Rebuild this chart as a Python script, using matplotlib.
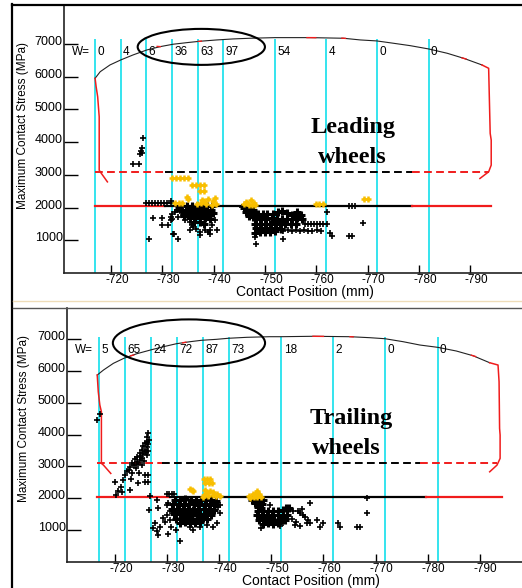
import numpy as np
import matplotlib
matplotlib.use("Agg")
import matplotlib.pyplot as plt
from matplotlib.patches import Ellipse
from matplotlib.lines import Line2D
from matplotlib.transforms import ScaledTranslation

plt.rcParams['font.family'] = ['Liberation Sans', 'DejaVu Sans']
plt.rcParams['axes.unicode_minus'] = False

CYAN = '#34E4EE'
RED = '#F01C1C'
GOLD = '#F8BE00'

# --- shared data ---
cut_x = [-716.9, -721.9, -726.9, -731.9, -736.9, -741.9, -751.9, -761.9, -771.9, -781.9]
xticks = [-720, -730, -740, -750, -760, -770, -780, -790]
yticks = [1000, 2000, 3000, 4000, 5000, 6000, 7000]

# --- leading wheels (top) ---
top_w = ['0', '4', '6', '36', '63', '97', '54', '4', '0', '0']
top_profile = [(-716.9, 5950), (-717.9, 6152), (-719.8, 6358), (-721.9, 6511), (-724.3, 6664),
               (-727.0, 6817), (-729.6, 6918), (-732.1, 6991), (-734.8, 7040), (-737.4, 7083),
               (-740.6, 7122), (-743.8, 7153), (-747.1, 7174), (-752.0, 7193), (-758.8, 7193),
               (-765.3, 7174), (-768.6, 7122), (-771.8, 7092), (-775.0, 7022), (-778.3, 6948),
               (-781.9, 6847), (-785.5, 6716), (-788.7, 6563), (-792.3, 6358)]
top_left_side = [(-716.9, 5950), (-717.1, 5693), (-717.4, 5387), (-717.7, 4775), (-717.7, 3143),
                 (-717.9, 3092), (-719.3, 2785)]
top_right_side = [(-792.3, 6358), (-793.6, 6256), (-793.9, 4267), (-794.1, 4062), (-794.1, 3297),
                  (-793.6, 3092), (-791.9, 2889)]
top_red_bits = [[(-729.0, 6925), (-729.6, 6918)], [(-737.0, 7078), (-737.6, 7085)],
                [(-758.2, 7193), (-759.9, 7192)], [(-765.0, 7176), (-765.7, 7170)],
                [(-788.4, 6575), (-789.2, 6540)]]
top_dash_y = 3092
top_dash_x = [-716.9, -730.5, -778.7, -793.6]
top_solid_y = 2050
top_solid_x = [-716.9, -730.5, -778.7, -794.1]
top_cut_top = 7150

top_black = [(-726.3, 4114), (-726.1, 3808), (-725.8, 3735), (-726.0, 3673), (-725.7, 3633),
             (-724.2, 3318), (-725.5, 3318),
             (-726.8, 2140), (-727.4, 2145), (-728.0, 2150), (-728.6, 2145), (-729.2, 2150),
             (-729.8, 2140), (-730.4, 2150), (-731.0, 2145), (-731.6, 2200), (-731.7, 2140),
             (-728.2, 1696), (-730.0, 1696), (-729.9, 1460), (-731.2, 1460), (-727.4, 1031),
             (-733.1, 1031), (-732.3, 1206), (-731.7, 1714), (-731.7, 1613), (-732.5, 1867),
             (-733.5, 1898), (-733.1, 1714), (-734.1, 1766), (-734.4, 1613), (-735.4, 1561),
             (-735.7, 1460), (-736.0, 1408), (-735.4, 1307), (-736.6, 1359), (-737.4, 1154),
             (-737.4, 1255), (-738.3, 1307), (-739.2, 1206), (-739.2, 1307), (-740.3, 1613),
             (-740.6, 1307), (-739.6, 1460), (-731.8, 1818), (-732.8, 1919), (-731.8, 1665),
             (-732.1, 1206), (-739.0, 1260),
             (-757.8, 1490), (-758.4, 1495), (-759.0, 1485), (-759.6, 1490), (-760.2, 1495),
             (-760.8, 1485), (-761.4, 1490), (-762.0, 1490),
             (-753.6, 1290), (-754.4, 1300), (-755.2, 1280), (-756.0, 1310), (-756.8, 1290),
             (-757.6, 1300), (-758.4, 1280), (-759.2, 1290), (-760.2, 1300), (-761.0, 1290),
             (-748.1, 1085), (-748.3, 900), (-753.6, 1025), (-769.2, 1530), (-766.3, 1125),
             (-766.9, 1125), (-762.7, 1230), (-763.0, 1125), (-762.0, 1870),
             (-766.3, 2040), (-766.9, 2040), (-767.5, 2040), (-745.5, 2020)]
top_black_dense = [(-734.8, 2050), (-735.8, 2040), (-736.8, 2055), (-737.8, 2045), (-738.8, 2050),
                   (-739.7, 2040), (-734.6, 1930), (-735.6, 1950), (-736.6, 1920), (-737.6, 1960),
                   (-738.6, 1940), (-739.5, 1920), (-735.0, 1810), (-736.0, 1830), (-737.0, 1800),
                   (-738.0, 1820), (-739.0, 1790), (-739.8, 1830), (-735.4, 1690), (-736.4, 1700),
                   (-737.4, 1670), (-738.4, 1690), (-739.2, 1650), (-736.2, 1570), (-737.3, 1560),
                   (-738.1, 1510), (-733.2, 1980), (-733.8, 1880), (-734.2, 1740),
                   (-746.0, 1980), (-746.9, 1990), (-747.6, 1940), (-746.3, 1850), (-747.2, 1860),
                   (-748.0, 1800), (-746.8, 1730), (-747.6, 1700),
                   (-748.6, 1800), (-749.6, 1790), (-750.5, 1810), (-751.5, 1790), (-752.5, 1850),
                   (-753.3, 1900), (-754.3, 1820), (-755.3, 1780), (-756.3, 1850), (-757.0, 1760),
                   (-748.3, 1650), (-749.3, 1660), (-750.3, 1640), (-751.3, 1670), (-752.3, 1650),
                   (-753.3, 1660), (-754.3, 1640), (-755.3, 1650), (-756.3, 1670), (-757.2, 1640),
                   (-748.0, 1500), (-749.0, 1510), (-750.0, 1490), (-751.0, 1500), (-752.0, 1520),
                   (-753.0, 1490), (-754.0, 1500), (-755.0, 1510), (-756.0, 1490),
                   (-748.2, 1360), (-749.2, 1350), (-750.2, 1370), (-751.2, 1350), (-752.2, 1360),
                   (-753.2, 1340), (-748.0, 1220), (-749.0, 1240), (-750.0, 1250), (-751.0, 1260),
                   (-752.0, 1270)]
top_gold = [(-731.8, 2890), (-732.6, 2890), (-733.4, 2890), (-734.2, 2890), (-735.0, 2890),
            (-735.8, 2685), (-736.6, 2685), (-737.4, 2685), (-738.2, 2685),
            (-737.4, 2510), (-738.2, 2510), (-734.8, 2308), (-735.1, 2247),
            (-736.8, 2100), (-737.5, 2150), (-738.2, 2200), (-739.0, 2250), (-739.8, 2200),
            (-740.4, 2120), (-738.6, 2100), (-739.6, 2080), (-737.8, 2230), (-740.2, 2280),
            (-732.5, 2124), (-733.2, 2124), (-733.8, 2124),
            (-746.0, 2100), (-746.6, 2150), (-747.2, 2230), (-747.8, 2150), (-748.1, 2080),
            (-746.8, 2080), (-747.5, 2090), (-746.3, 2180),
            (-759.9, 2103), (-760.6, 2103), (-761.4, 2103), (-769.3, 2247), (-770.1, 2247)]

# --- trailing wheels (bottom) ---
bot_w = ['5', '65', '24', '72', '87', '73', '18', '2', '0', '0']
bot_profile = [(-716.6, 5869), (-717.8, 6026), (-719.7, 6236), (-721.7, 6393), (-724.2, 6538),
               (-726.8, 6654), (-729.3, 6758), (-731.8, 6852), (-734.4, 6915), (-736.6, 6959),
               (-739.5, 6990), (-741.7, 7022), (-745.3, 7053), (-749.7, 7072), (-751.8, 7072),
               (-758.0, 7085), (-765.1, 7072), (-768.9, 7041), (-771.8, 7009), (-775.3, 6915),
               (-778.5, 6811), (-781.9, 6739), (-785.5, 6623), (-788.7, 6475), (-791.9, 6255)]
bot_left_side = [(-716.6, 5869), (-716.8, 5344), (-717.1, 4926), (-717.4, 4716), (-717.4, 3095),
                 (-717.8, 3041), (-719.2, 2780)]
bot_right_side = [(-791.9, 6255), (-793.5, 6183), (-793.7, 5658), (-793.8, 4194), (-793.9, 3984),
                  (-793.9, 3252), (-793.3, 3041), (-791.9, 2831)]
bot_red_bits = [[(-723.0, 6470), (-723.6, 6500)], [(-733.0, 6880), (-733.6, 6900)],
                [(-758.0, 7085), (-760.0, 7082)], [(-765.1, 7072), (-765.7, 7068)],
                [(-788.4, 6490), (-789.2, 6450)]]
bot_dash_y = 3095
bot_dash_x = [-716.6, -729.0, -778.5, -793.3]
bot_solid_y = 2026
bot_solid_x = [-716.6, -730.5, -779.7, -794.2]
bot_cut_top = 7050

bot_black = [(-717.1, 4660), (-716.6, 4470),
             (-726.4, 4057), (-726.1, 3774), (-725.8, 3723), (-726.4, 3700), (-725.4, 3640),
             (-726.1, 3600), (-725.1, 3530), (-725.8, 3480), (-726.4, 3480), (-724.8, 3409),
             (-725.4, 3390), (-726.1, 3355), (-724.3, 3302), (-725.1, 3280), (-723.8, 3220),
             (-724.8, 3199), (-725.5, 3180), (-723.3, 3115), (-724.5, 3075), (-725.2, 3041),
             (-722.9, 2990), (-724.0, 2935), (-722.4, 2865), (-723.3, 2800), (-721.9, 2727),
             (-724.6, 2780), (-725.8, 2727), (-726.4, 2727), (-723.0, 2620), (-721.6, 2570),
             (-724.5, 2490), (-725.8, 2517), (-726.4, 2517), (-720.0, 2517), (-721.1, 2360),
             (-720.6, 2234), (-721.3, 2200), (-722.9, 2270), (-720.2, 2099), (-726.7, 2070),
             (-726.6, 3826), (-726.2, 3931), (-726.0, 3450), (-724.9, 3320), (-724.2, 3150),
             (-723.6, 3041), (-722.7, 2884),
             (-729.9, 2130), (-730.4, 2135), (-730.9, 2130), (-731.3, 2130),
             (-726.6, 1640), (-728.3, 1681), (-727.3, 1053), (-728.0, 970), (-728.6, 1100),
             (-729.6, 1260), (-730.5, 1310), (-728.3, 842), (-732.5, 663), (-729.9, 1460),
             (-729.3, 1367), (-727.6, 1210), (-730.8, 1100), (-731.8, 1000), (-730.2, 890),
             (-739.5, 1210), (-738.9, 1100), (-737.6, 1160), (-736.3, 1100), (-739.8, 1730),
             (-740.1, 1524), (-734.4, 1100), (-735.0, 1000), (-730.5, 1590), (-730.0, 1790),
             (-728.0, 1940), (-730.2, 1860),
             (-749.7, 1785), (-753.2, 1681), (-754.2, 1610), (-755.1, 1610), (-755.8, 1650),
             (-755.5, 1524), (-756.1, 1470), (-756.5, 1400), (-757.1, 1313), (-756.8, 1230),
             (-757.4, 1210), (-758.7, 1313), (-760.0, 1210), (-754.8, 1260), (-753.9, 1335),
             (-754.5, 1157), (-755.5, 1125), (-759.3, 1103), (-762.8, 1210), (-763.2, 1103),
             (-766.4, 1103), (-767.0, 1103), (-757.4, 1838), (-748.1, 1053), (-751.6, 1125),
             (-752.3, 1210), (-768.3, 1524), (-768.3, 2015), (-740.1, 1785)]
bot_black_dense = [(-731.5, 1960), (-732.5, 1950), (-733.5, 1970), (-734.5, 1950), (-735.5, 1960),
                   (-736.5, 1940), (-737.5, 1960), (-738.5, 1950), (-739.4, 1930),
                   (-731.2, 1810), (-732.2, 1820), (-733.2, 1800), (-734.2, 1830), (-735.2, 1810),
                   (-736.2, 1790), (-737.2, 1820), (-738.2, 1800), (-739.2, 1810),
                   (-731.0, 1660), (-732.0, 1650), (-733.0, 1670), (-734.0, 1660), (-735.0, 1640),
                   (-736.0, 1660), (-737.0, 1650), (-738.0, 1670), (-739.0, 1640),
                   (-731.4, 1510), (-732.4, 1520), (-733.4, 1500), (-734.4, 1510), (-735.4, 1530),
                   (-736.4, 1500), (-737.4, 1510), (-738.4, 1490),
                   (-731.8, 1360), (-732.8, 1370), (-733.8, 1350), (-734.8, 1360), (-735.8, 1340),
                   (-736.8, 1370), (-737.6, 1350), (-732.4, 1220), (-733.4, 1240), (-734.4, 1210),
                   (-735.4, 1230), (-736.4, 1250),
                   (-746.2, 1960), (-747.0, 1950), (-747.8, 1940), (-748.5, 1960), (-746.8, 1840),
                   (-747.6, 1830), (-748.3, 1820), (-747.4, 1720), (-748.1, 1700),
                   (-747.4, 1600), (-748.4, 1590), (-749.4, 1610), (-750.4, 1600), (-751.3, 1590),
                   (-752.2, 1630), (-753.0, 1660), (-747.2, 1460), (-748.2, 1470), (-749.2, 1450),
                   (-750.2, 1460), (-751.2, 1480), (-752.2, 1450), (-753.0, 1460),
                   (-747.6, 1320), (-748.6, 1330), (-749.6, 1310), (-750.6, 1320), (-751.6, 1340),
                   (-752.6, 1320), (-748.4, 1200), (-749.4, 1210), (-750.4, 1190), (-751.2, 1220),
                   (-752.9, 1681), (-753.4, 1700)]
bot_gold = [(-734.4, 2280), (-735.0, 2230), (-734.7, 2250),
            (-737.0, 2620), (-737.6, 2620), (-738.2, 2620),
            (-737.3, 2485), (-738.0, 2485), (-738.7, 2485),
            (-737.0, 2100), (-737.6, 2180), (-738.3, 2230), (-738.9, 2200), (-739.6, 2150),
            (-740.1, 2080), (-737.8, 2070), (-738.8, 2090), (-739.4, 2060), (-736.8, 2050),
            (-737.2, 2250),
            (-745.8, 2080), (-746.4, 2140), (-747.0, 2180), (-747.6, 2120), (-748.1, 2050),
            (-746.6, 2050), (-747.3, 2040), (-747.3, 2225), (-745.9, 2000)]

W = 522
H = 588
fig = plt.figure(figsize=(W / 100, H / 100), dpi=100)


def px_rect(left, top, right, bottom):
    return [left / W, 1 - bottom / H, (right - left) / W, (bottom - top) / H]


def fig_line(x0, y0, x1, y1, color, lw):
    fig.add_artist(Line2D([x0 / W, x1 / W], [1 - y0 / H, 1 - y1 / H],
                          transform=fig.transFigure, color=color, lw=lw))


def draw_panel(ax, xlim, ylim, w_labels, w_y, profile, left_side, right_side, red_bits,
               dash_y, dash_x, solid_y, solid_x, cut_top, black, dense, gold,
               ell, name_lines, ylab_pos, xlab_pos):
    ax.set_xlim(*xlim)
    ax.set_ylim(*ylim)

    ax.vlines(cut_x, 0, cut_top, color=CYAN, lw=1.4, zorder=1)

    px, py = zip(*profile)
    ax.plot(px, py, color='#222222', lw=0.8, zorder=2)
    for bit in red_bits:
        bx, by = zip(*bit)
        ax.plot(bx, by, color=RED, lw=1.0, zorder=2)
    for side in (left_side, right_side):
        sx, sy = zip(*side)
        ax.plot(sx, sy, color=RED, lw=1.1, zorder=2)

    cols = [RED, 'black', RED]
    for i in range(3):
        ax.plot([dash_x[i], dash_x[i + 1]], [dash_y, dash_y], color=cols[i], lw=1.4,
                dashes=(4, 2.2), zorder=2)
        ax.plot([solid_x[i], solid_x[i + 1]], [solid_y, solid_y], color=cols[i], lw=1.6,
                zorder=2)

    dx, dy = zip(*dense)
    ax.plot(dx, dy, '+', color='black', ms=6, mew=2.2, zorder=3)
    bx, by = zip(*black)
    ax.plot(bx, by, '+', color='black', ms=4, mew=1.2, zorder=3)
    gx, gy = zip(*gold)
    ax.plot(gx, gy, '+', color=GOLD, ms=4.5, mew=1.8, zorder=3)

    ax.text(-712.4, w_y, 'W=', fontsize=8.5, va='center', ha='left')
    for cx, lab in zip(cut_x, w_labels):
        ax.text(cx - 0.45, w_y, lab, fontsize=8.5, va='center', ha='left')

    ax.add_patch(Ellipse(ell[0], ell[1], ell[2], fill=False, ec='black', lw=1.5,
                         zorder=4, clip_on=False))

    for (tx, ty, s) in name_lines:
        ax.text(tx, ty, s, family=['Liberation Serif', 'DejaVu Serif'], fontweight='bold',
                fontsize=17.5, ha='left', va='center')

    ax.set_xticks(xticks)
    ax.set_yticks(yticks)
    ax.tick_params(axis='y', direction='in', length=10, width=1.0, pad=1, labelsize=9)
    ax.tick_params(axis='x', direction='in', length=6, width=1.0, pad=0.5, labelsize=8.5)
    for lab in ax.get_xticklabels():
        lab.set_transform(lab.get_transform() + ScaledTranslation(0.06, 0, fig.dpi_scale_trans))
    for lab in ax.get_yticklabels():
        lab.set_va('baseline')
        lab.set_transform(lab.get_transform() + ScaledTranslation(0, -0.012, fig.dpi_scale_trans))

    ax.spines['top'].set_visible(False)
    ax.spines['right'].set_visible(False)
    for s in ('left', 'bottom'):
        ax.spines[s].set_linewidth(1.2)
        ax.spines[s].set_color('#222222')

    ax.set_ylabel('Maximum Contact Stress (MPa)', fontsize=8.5, va='center')
    ax.yaxis.set_label_coords(*ylab_pos)
    ax.set_xlabel('Contact Position (mm)', fontsize=10, va='center')
    ax.xaxis.set_label_coords(*xlab_pos)


ax1 = fig.add_axes(px_rect(64, 5, 522, 273))
draw_panel(ax1, (-710.84, -800.1), (0, 8190), top_w, 6755, top_profile, top_left_side,
           top_right_side, top_red_bits, top_dash_y, top_dash_x, top_solid_y, top_solid_x,
           top_cut_top, top_black, top_black_dense, top_gold,
           ((-737.6, 6910), 24.8, 1100),
           [(-758.8, 4460, 'Leading'), (-760.3, 3541, 'wheels')],
           (-0.0895, 0.552), (0.526, -0.071))

ax2 = fig.add_axes(px_rect(67, 308, 522, 562))
draw_panel(ax2, (-710.8, -798.1), (0, 7973), bot_w, 6655, bot_profile, bot_left_side,
           bot_right_side, bot_red_bits, bot_dash_y, bot_dash_x, bot_solid_y, bot_solid_x,
           bot_cut_top, bot_black, bot_black_dense, bot_gold,
           ((-734.2, 6875), 29.2, 1480),
           [(-757.4, 4518, 'Trailing'), (-757.8, 3576, 'wheels')],
           (-0.0945, 0.563), (0.536, -0.075))

# screenshot frame
fig_line(12, 5, 522, 5, 'black', 1.6)
fig_line(12, 4, 12, 588, 'black', 1.6)
fig_line(13, 300.7, 522, 300.7, '#EEDCB8', 1.0)
fig_line(13, 308.3, 522, 308.3, '#555555', 1.0)

fig.savefig('out.png', dpi=100)
